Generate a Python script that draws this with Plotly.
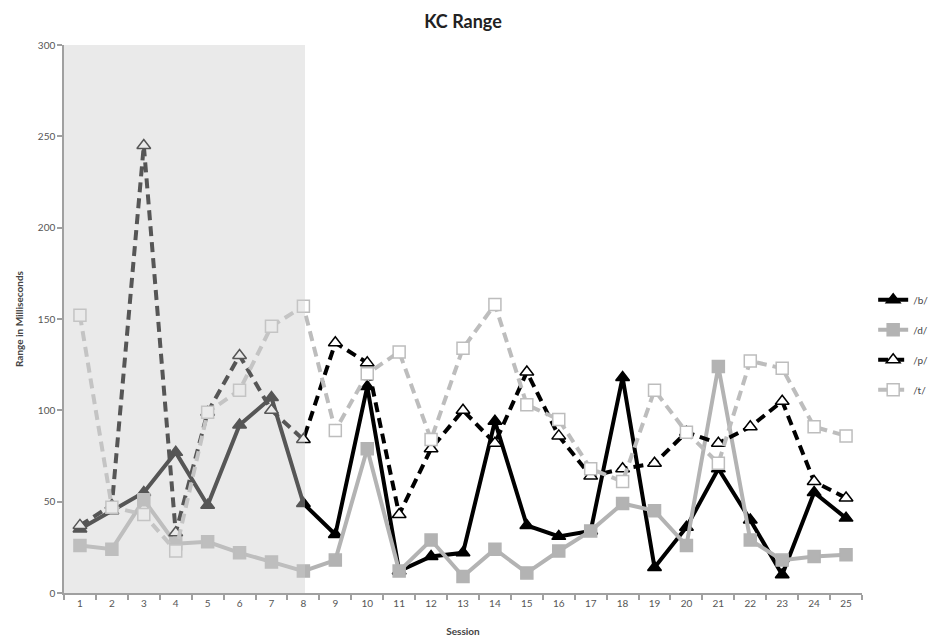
import plotly.graph_objects as go

sessions = list(range(1, 26))
b_vals = [35, 45, 55, 77, 48, 92, 107, 49, 32, 113, 12, 20, 22, 94, 37, 31, 34,
          118, 14, 36, 68, 40, 10, 55, 41]
d_vals = [26, 24, 51, 27, 28, 22, 17, 12, 18, 79, 12, 29, 9, 24, 11, 23, 34,
          49, 45, 26, 124, 29, 18, 20, 21]
p_vals = [37, 48, 245, 33, 99, 130, 100, 84, 137, 126, 43, 79, 100, 82, 121, 86, 64,
          68, 71, 88, 82, 91, 105, 61, 52]
t_vals = [152, 47, 43, 23, 99, 111, 146, 157, 89, 120, 132, 84, 134, 158, 103, 95, 68,
          61, 111, 88, 71, 127, 123, 91, 86]
series_names = ["/b/", "/d/", "/p/", "/t/"]
y_ticks = [0, 50, 100, 150, 200, 250, 300]

FONT = "Lato, 'Open Sans', sans-serif"

styles = [
    dict(color="#000000", dash="solid", symbol="triangle-up", mfill="#000000"),
    dict(color="#b3b3b3", dash="solid", symbol="square", mfill="#b3b3b3"),
    dict(color="#000000", dash="10px,6px", symbol="triangle-up", mfill="#ffffff"),
    dict(color="#bdbdbd", dash="10px,6px", symbol="square", mfill="#ffffff"),
]

fig = go.Figure()
for name, vals, st in zip(series_names, [b_vals, d_vals, p_vals, t_vals], styles):
    fig.add_trace(go.Scatter(
        x=sessions, y=vals, name=name, mode="lines+markers",
        legendgroup=name,
        line=dict(color=st["color"], width=4, dash=st["dash"]),
        marker=dict(symbol=st["symbol"], size=12, color=st["mfill"],
                    line=dict(color=st["color"], width=1.5)),
    ))

fig.add_shape(type="rect", xref="x", yref="y", x0=0.5, x1=8.05, y0=0, y1=303,
              fillcolor="rgba(205,205,205,0.42)", line=dict(width=0), layer="above")

fig.update_layout(
    width=946, height=643,
    margin=dict(l=64, r=73, t=45, b=50),
    paper_bgcolor="white", plot_bgcolor="white",
    font=dict(family=FONT, color="#444444", size=10),
    title=dict(text="<b>KC Range</b>", x=0.5, xref="paper", y=0.966, yanchor="middle",
               font=dict(family=FONT, size=18, color="#222222")),
    showlegend=True,
    legend=dict(x=1.014, xanchor="left", y=0.453, yanchor="middle",
                font=dict(family=FONT, size=10, color="#444444"),
                tracegroupgap=11, itemwidth=30, bgcolor="rgba(0,0,0,0)"),
    xaxis=dict(
        range=[0.5, 25.5], tickmode="array", tickvals=sessions,
        ticktext=[str(s) for s in sessions], ticks="", showgrid=False,
        zeroline=False, showline=True, linecolor="#a0a0a0", linewidth=1.5,
        automargin=False,
        tickfont=dict(family=FONT, size=10, color="#555555"),
        minor=dict(tick0=0.5, dtick=1, ticks="outside", ticklen=5,
                   tickcolor="#a0a0a0", tickwidth=1.5),
        title=dict(text="<b>Session</b>", standoff=20,
                   font=dict(family=FONT, size=10, color="#444444")),
    ),
    yaxis=dict(
        range=[0, 300], tickmode="array", tickvals=y_ticks, ticks="outside",
        ticklen=5, tickcolor="#a0a0a0", tickwidth=1.5, showgrid=False,
        zeroline=False, showline=True, linecolor="#a0a0a0", linewidth=1.5,
        automargin=False,
        tickfont=dict(family=FONT, size=10, color="#555555"),
        title=dict(text="<b>Range in Milliseconds</b>", standoff=12,
                   font=dict(family=FONT, size=10, color="#444444")),
    ),
)

fig.write_html("out.html", config={"displayModeBar": False},
               post_script="document.body.style.margin='0';")
